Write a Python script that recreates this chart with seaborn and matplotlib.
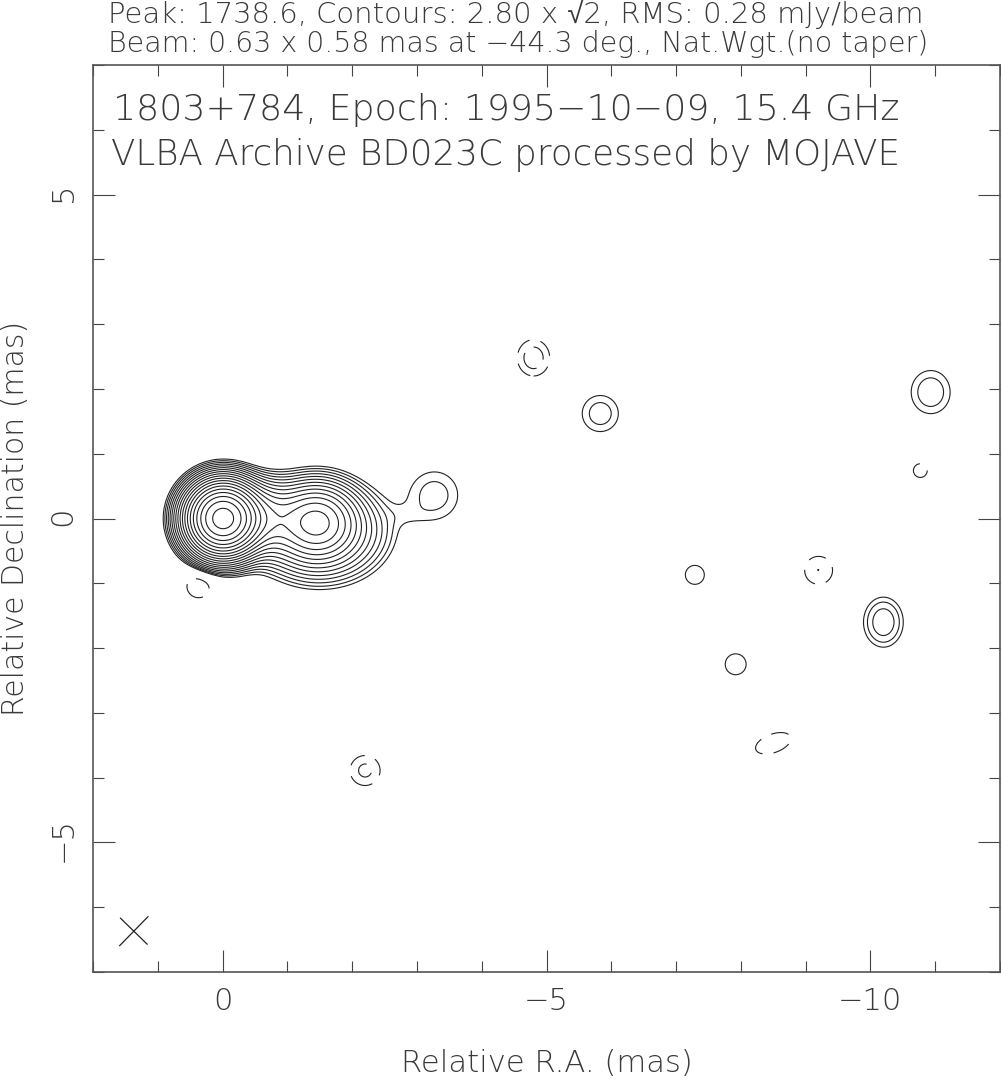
#!/usr/bin/env python3
# -*- coding: utf-8 -*-
import numpy as np
import seaborn as sns
import matplotlib
matplotlib.use('Agg')
import matplotlib.pyplot as plt
from matplotlib.ticker import MultipleLocator
from matplotlib.transforms import ScaledTranslation

# gaussian components (mas, mJy/beam)
comp_ra = [0.0, -0.5, -1.45, -1.5, -2.82, -3.27, -5.83, -10.93, -10.2, -7.29, -7.92,
           -4.8, -9.2, -8.5, -2.2, 0.37, -10.77]
comp_dec = [0.0, 0.0, -0.05, -0.2, 0.05, 0.36, 1.62, 1.95, -1.6, -0.87, -2.25,
            2.48, -0.8, -3.47, -3.89, -1.04, 0.74]
comp_amp = [1680, 130, 165, 50, 0.95, 4.73, 4.86, 5.2, 7.4, 3.2, 3.2,
            -4.8, -3.97, -3.3, -4.3, -3.97, -3.0]
comp_sx = [0.255, 0.38, 0.30, 0.49, 0.22, 0.35, 0.265, 0.27, 0.22, 0.284, 0.313,
           0.24, 0.258, 0.5, 0.25, 0.22, 0.29]
comp_sy = [0.255, 0.27, 0.28, 0.37, 0.12, 0.35, 0.265, 0.30, 0.277, 0.284, 0.313,
           0.27, 0.258, 0.25, 0.25, 0.22, 0.29]
comp_tilt = [0, 0, 0, 0, 0, 0, 0, 0, 0, 0, 0,
             0, 0, -20, 0, 0, 0]

base_level = 2.80
n_levels = 19
beam_maj = 0.63
beam_min = 0.58
beam_pa = -44.3
beam_ra = 1.37
beam_dec = -6.37

ra_ticks = [0, -5, -10]
dec_ticks = [-5, 0, 5]

sns.set_theme(style='ticks')
plt.rcParams['font.family'] = ['DejaVu Sans', 'Noto Sans', 'Liberation Sans']
plt.rcParams['font.weight'] = 'light'
txt = '#3a3a3a'

fig = plt.figure(figsize=(10.01, 10.79), dpi=100)
ax = fig.add_axes([93 / 1001, 1 - 972 / 1079, 907 / 1001, 907 / 1079])

ra = np.arange(2.0, -12.0, -0.03)
dec = np.arange(-7.0, 7.0, 0.03)
xx, yy = np.meshgrid(ra, dec)
flux = np.zeros_like(xx)
for r0, d0, a, sx, sy, t in zip(comp_ra, comp_dec, comp_amp, comp_sx, comp_sy, comp_tilt):
    th = np.radians(t)
    u = (xx - r0) * np.cos(th) + (yy - d0) * np.sin(th)
    v = -(xx - r0) * np.sin(th) + (yy - d0) * np.cos(th)
    flux += a * np.exp(-0.5 * (u / sx) ** 2 - 0.5 * (v / sy) ** 2)

pos_levels = [base_level * np.sqrt(2) ** i for i in range(n_levels)]
neg_levels = [-base_level * np.sqrt(2), -base_level]
styles = [(0, (16, 10))] * 2 + ['solid'] * n_levels
ax.contour(xx, yy, flux, levels=neg_levels + pos_levels, colors='#222222',
           linewidths=0.8, linestyles=styles)

# beam cross
for length, pa in [(beam_maj, beam_pa), (beam_min, beam_pa + 90)]:
    dx = 0.5 * length * np.sin(np.radians(pa))
    dy = 0.5 * length * np.cos(np.radians(pa))
    sns.lineplot(x=[beam_ra - dx, beam_ra + dx], y=[beam_dec - dy, beam_dec + dy],
                 ax=ax, sort=False, color='#222222', linewidth=0.9, legend=False)

ax.set_xlim(2, -12)
ax.set_ylim(-7, 7)
ax.set_xticks(ra_ticks)
ax.set_yticks(dec_ticks)
ax.set_xticklabels(['0', '\u22125', '\u221210'])
ax.set_yticklabels(['\u22125', '0', '5'], rotation=90, va='center')
ax.xaxis.set_minor_locator(MultipleLocator(1))
ax.yaxis.set_minor_locator(MultipleLocator(1))
ax.tick_params(which='major', direction='in', length=15.8, width=0.8, top=True, right=True,
               labelsize=22, colors='#444444', labelcolor=txt, pad=11)
ax.tick_params(which='minor', direction='in', length=7.9, width=0.8, top=True, right=True,
               colors='#444444')
for side in ax.spines.values():
    side.set_color('#555555')
    side.set_linewidth(1.2)

# rotated labels sit a bit low otherwise
for lab in ax.get_yticklabels():
    lab.set_transform(lab.get_transform() + ScaledTranslation(0, 2.5 / 100, fig.dpi_scale_trans))


def put(x, y, s, size, **kw):
    fig.text(x / 1001, 1 - y / 1079, s, fontsize=size, color=txt, ha=kw.pop('ha', 'left'),
             va='center', **kw)


put(108, 14.5, 'Peak: 1738.6, Contours: 2.80 x \u221a2, RMS: 0.28 mJy/beam', 21)
put(108, 43.5, 'Beam: 0.63 x 0.58 mas at \u221244.3 deg., Nat.Wgt.(no taper)', 20.5)
put(113, 110, '1803+784, Epoch: 1995\u221210\u221209, 15.4 GHz', 26.2)
put(111, 155, 'VLBA Archive BD023C processed by MOJAVE', 25.7)
put(547, 1063, 'Relative R.A. (mas)', 22.1, ha='center')
put(16, 518, 'Relative Declination (mas)', 21.5, ha='center', rotation=90)

plt.savefig('out.png', dpi=100)
